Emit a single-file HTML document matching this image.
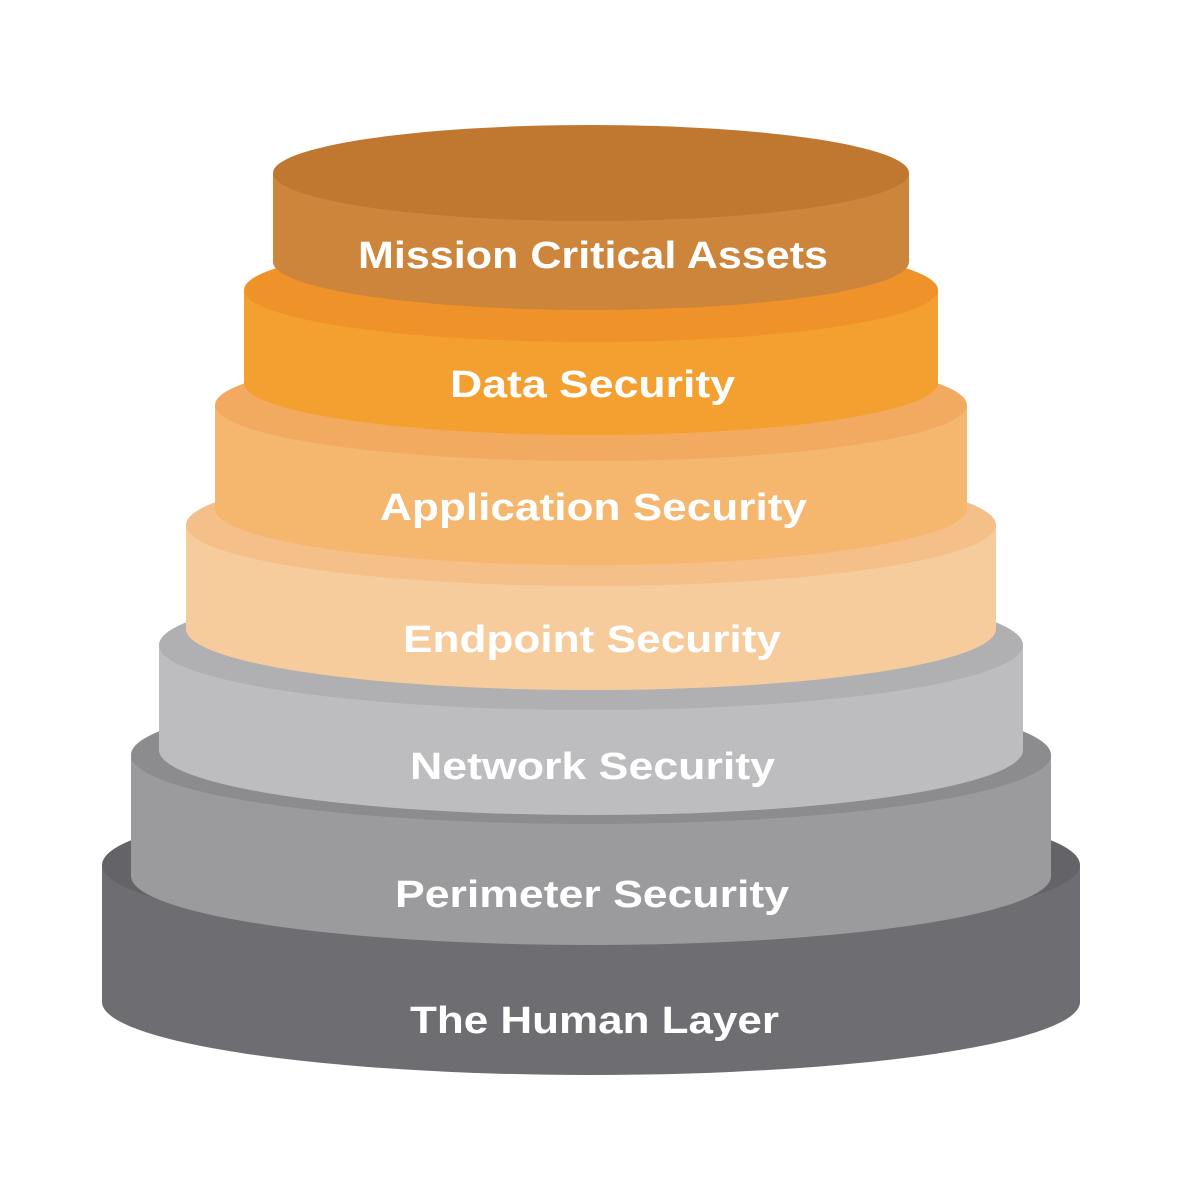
<!DOCTYPE html>
<html><head><meta charset="utf-8"><style>html,body{margin:0;padding:0;background:#fff}svg{display:block}</style></head>
<body>
<svg width="1200" height="1200" viewBox="0 0 1200 1200" xmlns="http://www.w3.org/2000/svg">
<g font-family="Liberation Sans, sans-serif" font-weight="bold" font-size="38" fill="#fff">
<!-- Human -->
<path d="M102,865 L102,1002 A489,73 0 0 0 1080,1002 L1080,865 Z" fill="#6e6e72"/>
<ellipse cx="591" cy="865" rx="489" ry="73" fill="#646468"/>
<!-- Perimeter -->
<path d="M131,755 L131,876 A460,69 0 0 0 1051,876 L1051,755 Z" fill="#9b9b9d"/>
<ellipse cx="591" cy="755" rx="460" ry="69" fill="#8c8c8e"/>
<!-- Network -->
<path d="M159,645 L159,750 A432,65 0 0 0 1023,750 L1023,645 Z" fill="#bdbdbf"/>
<ellipse cx="591" cy="645" rx="432" ry="65" fill="#b0b0b2"/>
<!-- Endpoint -->
<path d="M186,525 L186,629 A405,61 0 0 0 996,629 L996,525 Z" fill="#f7cc9c"/>
<ellipse cx="591" cy="525" rx="405" ry="61" fill="#f5bf8a"/>
<!-- App -->
<path d="M215,405 L215,509 A376,56 0 0 0 967,509 L967,405 Z" fill="#f5b66e"/>
<ellipse cx="591" cy="405" rx="376" ry="56" fill="#f1aa60"/>
<!-- Data -->
<path d="M244,290 L244,383 A347,52 0 0 0 938,383 L938,290 Z" fill="#f4a030"/>
<ellipse cx="591" cy="290" rx="347" ry="52" fill="#f0922a"/>
<!-- Mission -->
<path d="M273,173 L273,262 A318,48 0 0 0 909,262 L909,173 Z" fill="#cc853a"/>
<ellipse cx="591" cy="173" rx="318" ry="48" fill="#c07830"/>

<text x="358" y="268" textLength="470" lengthAdjust="spacingAndGlyphs">Mission Critical Assets</text>
<text x="450" y="397" textLength="285" lengthAdjust="spacingAndGlyphs">Data Security</text>
<text x="380" y="520" textLength="427" lengthAdjust="spacingAndGlyphs">Application Security</text>
<text x="403" y="652" textLength="378" lengthAdjust="spacingAndGlyphs">Endpoint Security</text>
<text x="410" y="779" textLength="365" lengthAdjust="spacingAndGlyphs">Network Security</text>
<text x="395" y="907" textLength="394" lengthAdjust="spacingAndGlyphs">Perimeter Security</text>
<text x="410" y="1033" textLength="369" lengthAdjust="spacingAndGlyphs">The Human Layer</text>
</g>
</svg>
</body></html>
